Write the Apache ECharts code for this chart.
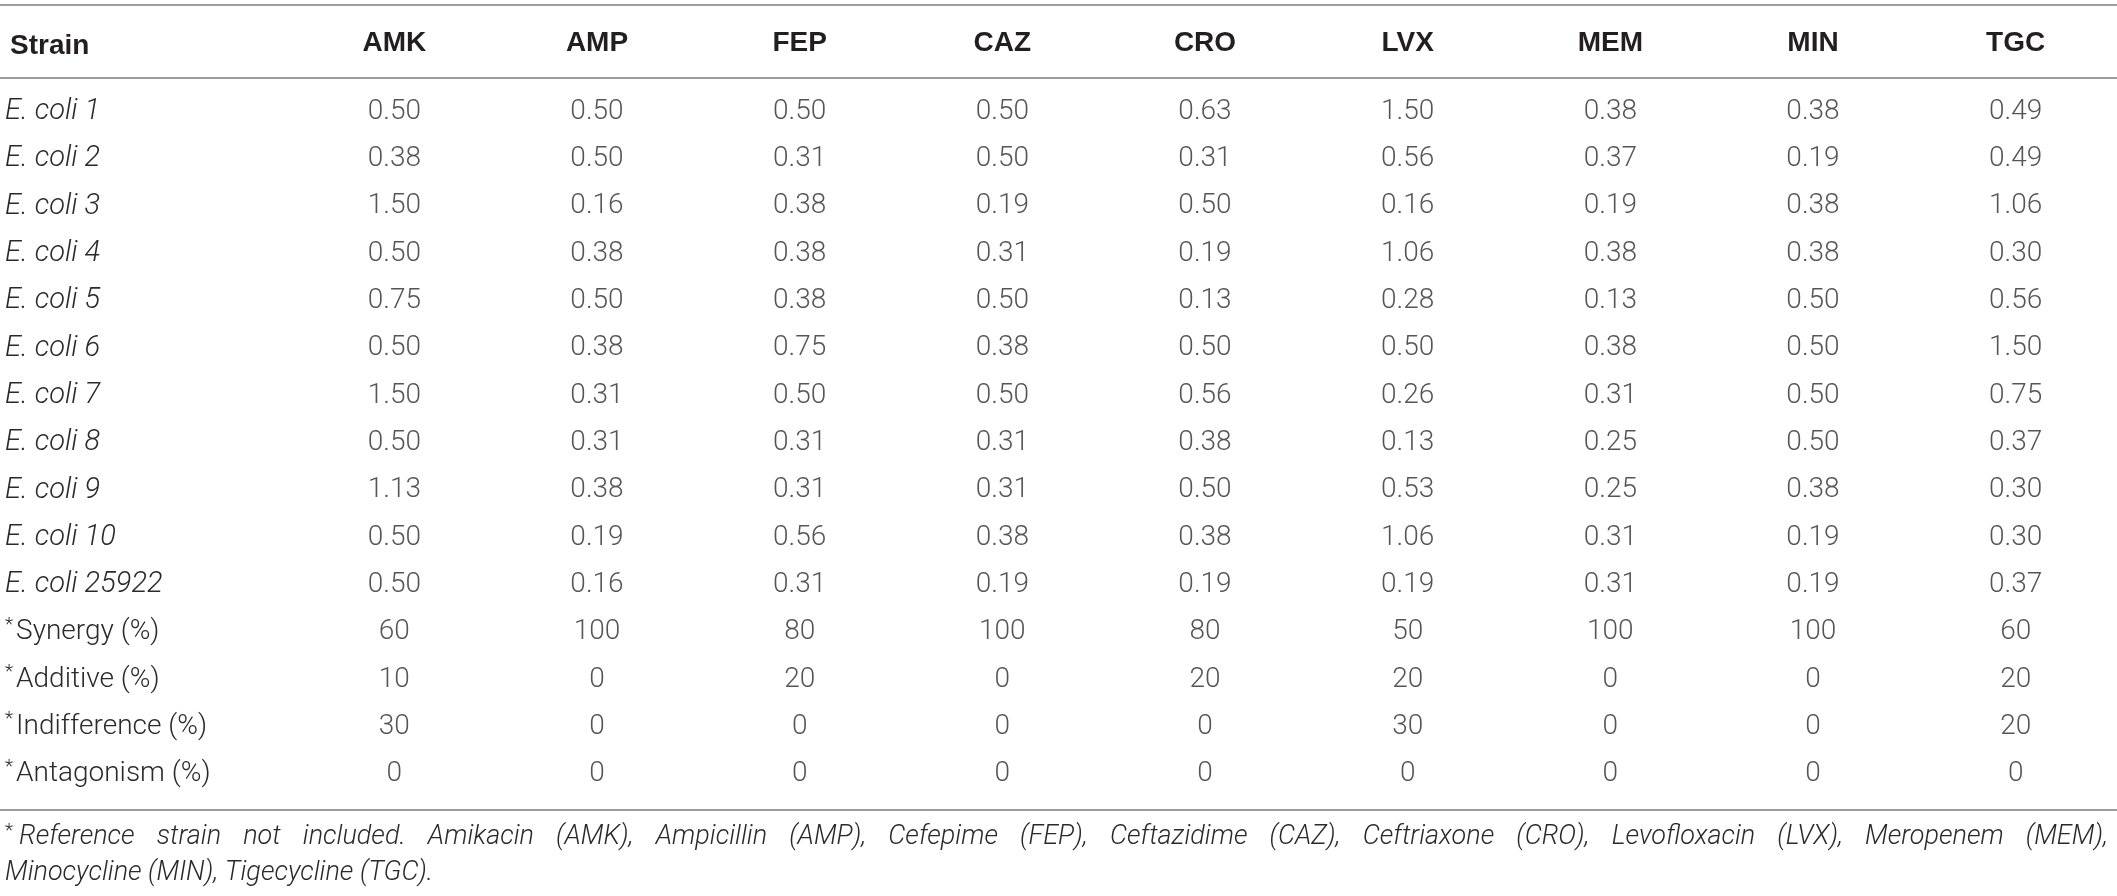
<!DOCTYPE html>
<html>
<head>
<meta charset="utf-8">
<script src="https://cdn.jsdelivr.net/npm/echarts@6/dist/echarts.min.js"></script>
<style>
  html, body { margin: 0; padding: 0; background: #fff; }
  #main { width: 2117px; height: 896px; }
</style>
</head>
<body>
<div id="main"></div>
<script>
// columns (drugs) and rows (strains + summary)
const drugs = ["AMK", "AMP", "FEP", "CAZ", "CRO", "LVX", "MEM", "MIN", "TGC"];
const strains = ["E. coli 1", "E. coli 2", "E. coli 3", "E. coli 4", "E. coli 5", "E. coli 6",
  "E. coli 7", "E. coli 8", "E. coli 9", "E. coli 10", "E. coli 25922"];
const summaryLabels = ["Synergy (%)", "Additive (%)", "Indifference (%)", "Antagonism (%)"];

// FICI values per drug, one entry per strain
const micAMK = [0.50, 0.38, 1.50, 0.50, 0.75, 0.50, 1.50, 0.50, 1.13, 0.50, 0.50];
const micAMP = [0.50, 0.50, 0.16, 0.38, 0.50, 0.38, 0.31, 0.31, 0.38, 0.19, 0.16];
const micFEP = [0.50, 0.31, 0.38, 0.38, 0.38, 0.75, 0.50, 0.31, 0.31, 0.56, 0.31];
const micCAZ = [0.50, 0.50, 0.19, 0.31, 0.50, 0.38, 0.50, 0.31, 0.31, 0.38, 0.19];
const micCRO = [0.63, 0.31, 0.50, 0.19, 0.13, 0.50, 0.56, 0.38, 0.50, 0.38, 0.19];
const micLVX = [1.50, 0.56, 0.16, 1.06, 0.28, 0.50, 0.26, 0.13, 0.53, 1.06, 0.19];
const micMEM = [0.38, 0.37, 0.19, 0.38, 0.13, 0.38, 0.31, 0.25, 0.25, 0.31, 0.31];
const micMIN = [0.38, 0.19, 0.38, 0.38, 0.50, 0.50, 0.50, 0.50, 0.38, 0.19, 0.19];
const micTGC = [0.49, 0.49, 1.06, 0.30, 0.56, 1.50, 0.75, 0.37, 0.30, 0.30, 0.37];

// summary percentages per drug
const synergy      = [60, 100, 80, 100, 80, 50, 100, 100, 60];
const additive     = [10, 0, 20, 0, 20, 20, 0, 0, 20];
const indifference = [30, 0, 0, 0, 0, 30, 0, 0, 20];
const antagonism   = [0, 0, 0, 0, 0, 0, 0, 0, 0];

const footLine1 = "Reference strain not included. Amikacin (AMK), Ampicillin (AMP), Cefepime (FEP), Ceftazidime (CAZ), Ceftriaxone (CRO), Levofloxacin (LVX), Meropenem (MEM),";
const footLine2 = "Minocycline (MIN), Tigecycline (TGC).";

const W = 2117;
const TXT = "#2a2a2a";
const RULE = "#9d9d9d";
const FOOT_FONT = "italic 300 27px Roboto";

/* ---- cells ---- */
const micCols = [micAMK, micAMP, micFEP, micCAZ, micCRO, micLVX, micMEM, micMIN, micTGC];
const cells = [];
strains.forEach((s, r) => {
  micCols.forEach((col, c) => cells.push([c, r, col[r].toFixed(2)]));
});
[synergy, additive, indifference, antagonism].forEach((row, i) => {
  row.forEach((v, c) => cells.push([c, strains.length + i, String(v)]));
});
const rowLabels = strains.concat(summaryLabels);

/* ---- footnote: first line justified ---- */
const ctx = document.createElement("canvas").getContext("2d");
ctx.font = FOOT_FONT;
const words = footLine1.split(" ");
const x0 = 19, x1 = W - 9;
const widths = words.map(w => ctx.measureText(w).width);
const gap = (x1 - x0 - widths.reduce((a, b) => a + b, 0)) / (words.length - 1);
const footGraphics = [];
let cx = x0;
words.forEach((w, i) => {
  footGraphics.push({ type: "text", x: cx, y: 837, style: { text: w, font: FOOT_FONT, fill: TXT, textVerticalAlign: "middle" } });
  cx += widths[i] + gap;
});
footGraphics.push({ type: "text", x: 5, y: 831, style: { text: "*", font: "300 19px Roboto", fill: TXT, textVerticalAlign: "middle" } });
footGraphics.push({ type: "text", x: 5, y: 873, style: { text: footLine2, font: FOOT_FONT, fill: TXT, textVerticalAlign: "middle" } });

const chart = echarts.init(document.getElementById("main"));

const ruleAxis = (extra) => Object.assign({
  gridIndex: 1, type: "value", min: 0, max: 1,
  axisLine: { show: true, onZero: false, lineStyle: { color: RULE, width: 2 } },
  axisTick: { show: false }, axisLabel: { show: false }, splitLine: { show: false }
}, extra);

chart.setOption({
  animation: false,
  backgroundColor: "#fff",
  title: {
    text: "Strain", left: 5, top: 27,
    textStyle: { fontFamily: "Liberation Sans", fontWeight: "bold", fontSize: 28, color: "#231f20" }
  },
  grid: [
    { left: 293, top: 88, width: 1895, height: 710 },   // table body
    { left: 0, right: 0, top: 78, bottom: 86 }          // horizontal rules
  ],
  xAxis: [
    {
      gridIndex: 0, type: "category", data: drugs, position: "top",
      axisLine: { show: false }, axisTick: { show: false }, splitLine: { show: false },
      axisLabel: { interval: 0, margin: 31, fontFamily: "Liberation Sans", fontWeight: "bold", fontSize: 28, color: "#231f20" }
    },
    ruleAxis({ position: "top" }),
    ruleAxis({ position: "bottom" }),
    ruleAxis({ position: "top", offset: 73 })
  ],
  yAxis: [
    {
      gridIndex: 0, type: "category", data: rowLabels, inverse: true,
      axisLine: { show: false }, axisTick: { show: false }, splitLine: { show: false },
      axisLabel: {
        interval: 0, margin: 288, align: "left",
        formatter: (v, i) => i < strains.length ? `{it|${v}}` : `{sup|*}{n|${v}}`,
        rich: {
          it: { fontFamily: "Roboto", fontStyle: "italic", fontWeight: 300, fontSize: 29, color: TXT, lineHeight: 34 },
          n: { fontFamily: "Roboto", fontWeight: 300, fontSize: 28, color: TXT, lineHeight: 34 },
          sup: { fontFamily: "Roboto", fontWeight: 300, fontSize: 19, color: TXT, lineHeight: 34, verticalAlign: "top", padding: [0, 3, 0, 0] }
        }
      }
    },
    { gridIndex: 1, type: "value", min: 0, max: 1, show: false }
  ],
  series: [{
    type: "scatter", xAxisIndex: 0, yAxisIndex: 0,
    data: cells, symbolSize: 1, silent: true,
    itemStyle: { color: "rgba(0,0,0,0)" },
    label: {
      show: true, position: "inside",
      formatter: p => p.data[2],
      fontFamily: "Roboto", fontWeight: 300, fontSize: 28, color: TXT
    }
  }],
  graphic: footGraphics
});
</script>
</body>
</html>
